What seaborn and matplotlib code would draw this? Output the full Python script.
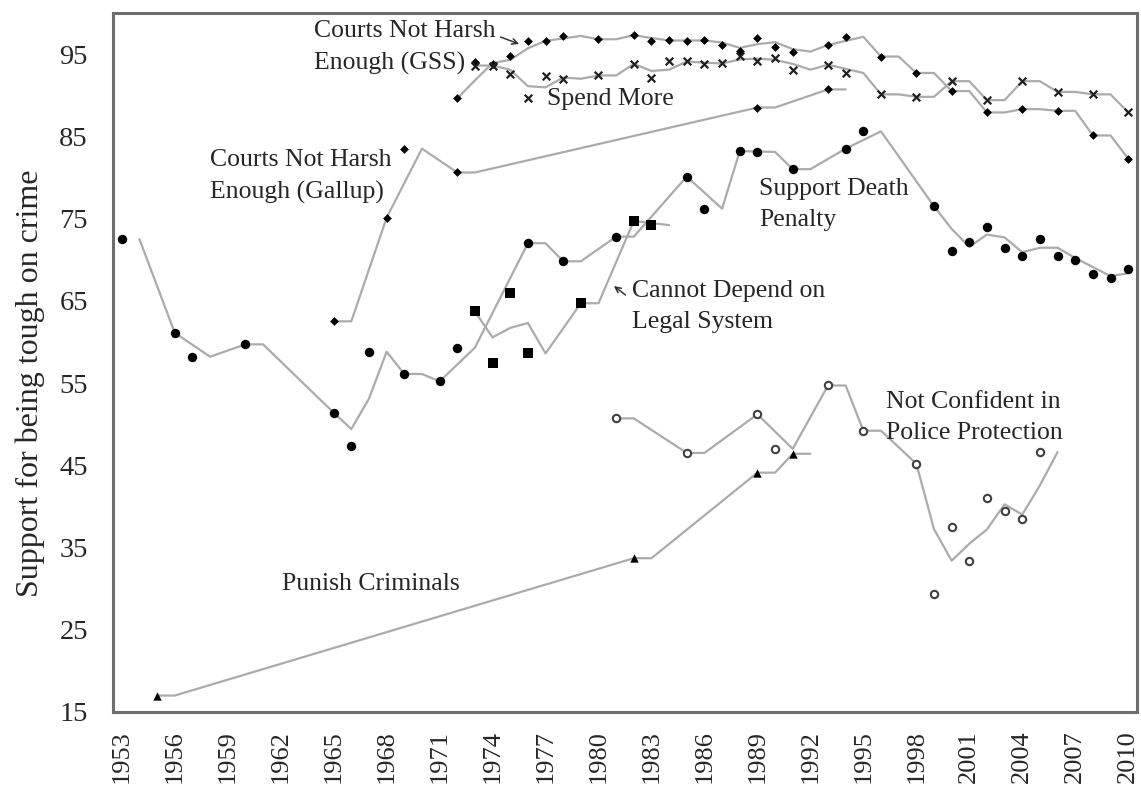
import numpy as np
import pandas as pd
import matplotlib
matplotlib.use("Agg")
import matplotlib.pyplot as plt
import seaborn as sns

# ---------------- data ----------------
all_years = list(range(1953, 2011))

dp_years = [1953, 1956, 1957, 1960, 1965, 1966, 1967, 1969, 1971, 1972, 1976, 1978, 1981,
            1985, 1986, 1988, 1989, 1991, 1994, 1995, 1999, 2000, 2001, 2002, 2003, 2004,
            2005, 2006, 2007, 2008, 2009, 2010]
dp_vals = [72.5, 61.1, 58.2, 59.7, 51.4, 47.4, 58.8, 56.1, 55.2, 59.3, 72.0, 69.8, 72.8,
           80.1, 76.2, 83.2, 83.1, 81.0, 83.5, 85.6, 76.5, 71.0, 72.1, 74.0, 71.4, 70.4,
           72.5, 70.4, 70.0, 68.2, 67.8, 68.9]

gallup_years = [1965, 1968, 1969, 1972, 1989, 1993]
gallup_vals = [62.5, 75.1, 83.5, 80.6, 88.5, 90.7]

gss_years = [1972, 1973, 1974, 1975, 1976, 1977, 1978, 1980, 1982, 1983, 1984, 1985, 1986,
             1987, 1988, 1989, 1990, 1991, 1993, 1994, 1996, 1998, 2000, 2002, 2004, 2006,
             2008, 2010]
gss_vals = [89.6, 94.0, 93.8, 94.8, 96.6, 96.6, 97.2, 96.8, 97.3, 96.6, 96.7, 96.6, 96.7,
            96.1, 95.4, 97.0, 95.9, 95.3, 96.1, 97.1, 94.7, 92.7, 90.5, 87.9, 88.3, 88.1,
            85.1, 82.3]

spend_years = [1973, 1974, 1975, 1976, 1977, 1978, 1980, 1982, 1983, 1984, 1985, 1986, 1987,
               1988, 1989, 1990, 1991, 1993, 1994, 1996, 1998, 2000, 2002, 2004, 2006, 2008,
               2010]
spend_vals = [93.6, 93.6, 92.6, 89.6, 92.3, 92.0, 92.4, 93.8, 92.1, 94.1, 94.1, 93.8, 93.9,
              94.8, 94.1, 94.5, 93.1, 93.7, 92.7, 90.1, 89.8, 91.7, 89.4, 91.7, 90.4, 90.1,
              87.9]

legal_years = [1973, 1974, 1975, 1976, 1979, 1982, 1983]
legal_vals = [63.7, 57.4, 66.0, 58.6, 64.7, 74.7, 74.2]

police_years = [1981, 1985, 1989, 1990, 1993, 1995, 1998, 1999, 2000, 2001, 2002, 2003,
                2004, 2005]
police_vals = [50.7, 46.5, 51.2, 47.0, 54.7, 49.2, 45.2, 29.3, 37.5, 33.4, 41.0, 39.5,
               38.5, 46.6]

punish_years = [1955, 1982, 1989, 1991]
punish_vals = [17.0, 33.7, 44.1, 46.4]

xtick_years = list(range(1953, 2011, 3))
ytick_vals = list(range(15, 96, 10))

labels = {
    "gss": "Courts Not Harsh\nEnough (GSS)",
    "spend": "Spend More",
    "gallup": "Courts Not Harsh\nEnough (Gallup)",
    "dp": "Support Death\nPenalty",
    "legal": "Cannot Depend on\nLegal System",
    "police": "Not Confident in\nPolice Protection",
    "punish": "Punish Criminals",
}
ylabel = "Support for being tough on crime"

# ---------------- style ----------------
sns.set_style("white")
plt.rcParams["font.family"] = ["Liberation Serif", "DejaVu Serif"]

fig = plt.figure(figsize=(11.41, 7.89), dpi=100)
ax = fig.add_axes([0.099, 0.0976, 0.8975, 0.886])

LINE_C = "#ababab"
TXT_C = "#262626"


def moving_avg(years, vals):
    s = pd.Series(vals, index=years, dtype=float).reindex(all_years)
    ma = s.rolling(2, min_periods=1).mean().iloc[1:].dropna()
    return pd.DataFrame({"year": ma.index, "val": ma.values})


series = [
    (gss_years, gss_vals, dict(marker="D", s=20, color="black", linewidth=0)),
    (spend_years, spend_vals, dict(marker="x", s=30, color="#202020", linewidth=1.6)),
    (gallup_years, gallup_vals, dict(marker="D", s=20, color="black", linewidth=0)),
    (dp_years, dp_vals, dict(marker="o", s=46, color="black", linewidth=0)),
    (legal_years, legal_vals, dict(marker="s", s=50, color="black", linewidth=0)),
    (police_years, police_vals, dict(marker="o", s=28, facecolor="white",
                                     edgecolor="#404040", linewidth=1.5)),
    (punish_years, punish_vals, dict(marker="^", s=36, color="black", linewidth=0)),
]

for yrs, vals, mk in series:
    ma = moving_avg(yrs, vals)
    sns.lineplot(data=ma, x="year", y="val", ax=ax, color=LINE_C, linewidth=1.6,
                 estimator=None, sort=True, zorder=2)
    df = pd.DataFrame({"year": yrs, "val": vals})
    sns.scatterplot(data=df, x="year", y="val", ax=ax, zorder=3, **mk)

ax.set_xlim(1952.5, 2010.5)
ax.set_ylim(15, 100)
ax.set_xticks(xtick_years)
ax.set_xticklabels([str(y) for y in xtick_years], rotation=90, fontsize=19, color=TXT_C)
ax.set_yticks(ytick_vals)
ax.set_yticklabels([str(v) for v in ytick_vals], fontsize=20.5, color=TXT_C)
ax.tick_params(axis="y", length=0, pad=18)
ax.tick_params(axis="x", length=0, pad=13)
ax.set_xlabel("")
ax.set_ylabel(ylabel, fontsize=23, color=TXT_C)
ax.yaxis.set_label_coords(-0.066, 0.47)

for sp in ax.spines.values():
    sp.set_visible(True)
    sp.set_color("#6e6e6e")
    sp.set_linewidth(2.2)

fs = 18.5
ls = 1.55
ax.text(1963.87, 95.8, labels["gss"], fontsize=fs, color=TXT_C, ha="left", va="center",
        linespacing=ls)
ax.text(1977.1, 89.5, labels["spend"], fontsize=fs, color=TXT_C, ha="left", va="center")
ax.text(1958.0, 80.1, labels["gallup"], fontsize=fs, color=TXT_C, ha="left", va="center",
        linespacing=ls)
ax.text(1989.1, 76.7, labels["dp"], fontsize=fs, color=TXT_C, ha="left", va="center",
        linespacing=ls)
ax.text(1981.9, 64.3, labels["legal"], fontsize=fs, color=TXT_C, ha="left", va="center",
        linespacing=ls)
ax.text(1996.3, 50.8, labels["police"], fontsize=fs, color=TXT_C, ha="left", va="center",
        linespacing=ls)
ax.text(1962.1, 30.6, labels["punish"], fontsize=fs, color=TXT_C, ha="left", va="center")

ax.annotate("", xy=(1975.65, 96.1), xytext=(1974.3, 97.2),
            arrowprops=dict(arrowstyle="->", color="#333333", lw=1.1))
ax.annotate("", xy=(1980.75, 67.0), xytext=(1981.65, 65.5),
            arrowprops=dict(arrowstyle="->", color="#333333", lw=1.1))

fig.savefig("out.png", dpi=100)
